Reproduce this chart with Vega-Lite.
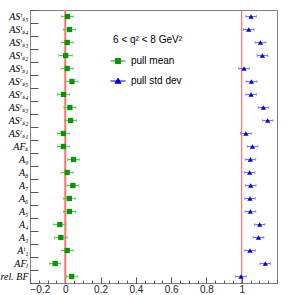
{
  "$schema": "https://vega.github.io/schema/vega-lite/v6.json",
  "width": 247,
  "height": 273,
  "autosize": "none",
  "padding": {"left": 30, "top": 10, "right": 10, "bottom": 12},
  "background": "white",
  "config": {
    "view": {"stroke": "#808080", "strokeWidth": 1},
    "axis": {"grid": false, "domain": false, "tickColor": "#555555", "labelColor": "#222222"}
  },
  "datasets": {
    "pulls": [
      {"param": "ASᵗₛ₅", "series": "pull mean", "value": 0.013, "err": 0.034},
      {"param": "ASᵗₛ₄", "series": "pull mean", "value": 0.024, "err": 0.034},
      {"param": "ASᵗₛ₃", "series": "pull mean", "value": 0.011, "err": 0.034},
      {"param": "ASᵗₛ₂", "series": "pull mean", "value": 0.002, "err": 0.038},
      {"param": "ASᵗₛ₁", "series": "pull mean", "value": 0.011, "err": 0.034},
      {"param": "ASʳₛ₅", "series": "pull mean", "value": 0.038, "err": 0.034},
      {"param": "ASʳₛ₄", "series": "pull mean", "value": -0.010, "err": 0.034},
      {"param": "ASʳₛ₃", "series": "pull mean", "value": 0.026, "err": 0.034},
      {"param": "ASʳₛ₂", "series": "pull mean", "value": 0.030, "err": 0.034},
      {"param": "ASʳₛ₁", "series": "pull mean", "value": -0.011, "err": 0.034},
      {"param": "AFₛ", "series": "pull mean", "value": -0.011, "err": 0.034},
      {"param": "A₉", "series": "pull mean", "value": 0.047, "err": 0.034},
      {"param": "A₈", "series": "pull mean", "value": 0.011, "err": 0.034},
      {"param": "A₇", "series": "pull mean", "value": 0.043, "err": 0.034},
      {"param": "A₆", "series": "pull mean", "value": 0.023, "err": 0.034},
      {"param": "A₅", "series": "pull mean", "value": 0.024, "err": 0.034},
      {"param": "A₄", "series": "pull mean", "value": -0.031, "err": 0.036},
      {"param": "A₃", "series": "pull mean", "value": -0.025, "err": 0.036},
      {"param": "Aᵗ₁", "series": "pull mean", "value": 0.011, "err": 0.034},
      {"param": "AFₗ", "series": "pull mean", "value": -0.057, "err": 0.032},
      {"param": "rel. BF", "series": "pull mean", "value": 0.036, "err": 0.032},
      {"param": "ASᵗₛ₅", "series": "pull std dev", "value": 1.053, "err": 0.03},
      {"param": "ASᵗₛ₄", "series": "pull std dev", "value": 1.040, "err": 0.03},
      {"param": "ASᵗₛ₃", "series": "pull std dev", "value": 1.106, "err": 0.03},
      {"param": "ASᵗₛ₂", "series": "pull std dev", "value": 1.117, "err": 0.03},
      {"param": "ASᵗₛ₁", "series": "pull std dev", "value": 1.013, "err": 0.03},
      {"param": "ASʳₛ₅", "series": "pull std dev", "value": 1.055, "err": 0.03},
      {"param": "ASʳₛ₄", "series": "pull std dev", "value": 1.053, "err": 0.03},
      {"param": "ASʳₛ₃", "series": "pull std dev", "value": 1.123, "err": 0.03},
      {"param": "ASʳₛ₂", "series": "pull std dev", "value": 1.147, "err": 0.03},
      {"param": "ASʳₛ₁", "series": "pull std dev", "value": 1.024, "err": 0.03},
      {"param": "AFₛ", "series": "pull std dev", "value": 1.061, "err": 0.03},
      {"param": "A₉", "series": "pull std dev", "value": 1.049, "err": 0.03},
      {"param": "A₈", "series": "pull std dev", "value": 1.045, "err": 0.03},
      {"param": "A₇", "series": "pull std dev", "value": 1.051, "err": 0.03},
      {"param": "A₆", "series": "pull std dev", "value": 1.047, "err": 0.03},
      {"param": "A₅", "series": "pull std dev", "value": 1.049, "err": 0.03},
      {"param": "A₄", "series": "pull std dev", "value": 1.102, "err": 0.03},
      {"param": "A₃", "series": "pull std dev", "value": 1.095, "err": 0.03},
      {"param": "Aᵗ₁", "series": "pull std dev", "value": 1.047, "err": 0.03},
      {"param": "AFₗ", "series": "pull std dev", "value": 1.134, "err": 0.03},
      {"param": "rel. BF", "series": "pull std dev", "value": 0.996, "err": 0.03}
    ]
  },
  "resolve": {"axis": {"x": "independent"}, "scale": {"color": "independent"}, "legend": {"color": "independent"}},
  "layer": [
    {
      "data": {"values": [{}]},
      "mark": {"type": "rule", "color": "#ff7070", "strokeWidth": 2},
      "encoding": {
        "x": {
          "datum": 0, "type": "quantitative",
          "scale": {"domain": [-0.2, 1.2], "nice": false, "zero": false},
          "axis": {
            "orient": "bottom",
            "values": [-0.2,-0.15,-0.1,-0.05,0,0.05,0.1,0.15,0.2,0.25,0.3,0.35,0.4,0.45,0.5,0.55,0.6,0.65,0.7,0.75,0.8,0.85,0.9,0.95,1,1.05,1.1,1.15,1.2],
            "labels": false, "tickSize": -3, "title": null
          }
        }
      }
    },
    {
      "data": {"values": [{}]},
      "mark": {"type": "rule", "color": "#ff5555", "strokeWidth": 1},
      "encoding": {"x": {"datum": 1, "type": "quantitative", "axis": null}}
    },
    {
      "data": {"name": "pulls"},
      "mark": {"type": "errorbar", "ticks": {"size": 3}},
      "encoding": {
        "y": {"field": "param", "type": "nominal"},
        "x": {"field": "value", "type": "quantitative", "axis": null},
        "xError": {"field": "err"},
        "color": {"field": "series", "type": "nominal", "legend": null,
          "scale": {"domain": ["pull mean", "pull std dev"], "range": ["#66c266", "#7777ff"]}}
      }
    },
    {
      "data": {"name": "pulls"},
      "mark": {"type": "point", "filled": true, "opacity": 1, "size": 28},
      "encoding": {
        "y": {
          "field": "param", "type": "nominal", "title": null,
          "scale": {"domain": ["ASᵗₛ₅","ASᵗₛ₄","ASᵗₛ₃","ASᵗₛ₂","ASᵗₛ₁","ASʳₛ₅","ASʳₛ₄","ASʳₛ₃","ASʳₛ₂","ASʳₛ₁","AFₛ","A₉","A₈","A₇","A₆","A₅","A₄","A₃","Aᵗ₁","AFₗ","rel. BF"], "type": "band", "paddingInner": 0, "paddingOuter": 0},
          "axis": {"tickBand": "extent", "tickSize": -8, "labelFont": "Liberation Serif", "labelFontStyle": "italic", "labelFontSize": 10, "labelColor": "#000000", "labelPadding": 10}
        },
        "x": {
          "field": "value", "type": "quantitative",
          "axis": {"orient": "bottom", "values": [-0.2, 0, 0.2, 0.4, 0.6, 0.8, 1.0], "format": ".2~f", "tickSize": -6, "labelFont": "Liberation Sans", "labelFontSize": 10, "labelPadding": 7, "title": null}
        },
        "color": {
          "field": "series", "type": "nominal",
          "scale": {"domain": ["pull mean", "pull std dev"], "range": ["#009900", "#0000ee"]},
          "legend": {
            "title": "6 < q² < 8 GeV²", "orient": "none", "legendX": 80, "legendY": 25,
            "titleFont": "Liberation Sans", "titleFontSize": 10, "titleFontWeight": "normal", "titleColor": "#000000",
            "titleAnchor": "end", "titlePadding": 8,
            "labelFont": "Liberation Sans", "labelFontSize": 10, "labelColor": "#000000", "labelOffset": 5,
            "symbolSize": 225, "rowPadding": 7, "symbolStrokeWidth": 1, "symbolOpacity": 1,
            "encode": {"symbols": {"update": {
              "shape": {"signal": "datum.value === 'pull mean' ? 'M-1,0H1M-0.33,-0.33H0.33V0.33H-0.33Z' : 'M-1,0H1M0,-0.38L0.4,0.3H-0.4Z'"},
              "stroke": {"signal": "datum.value === 'pull mean' ? '#009900' : '#0000ee'"},
              "fill": {"signal": "datum.value === 'pull mean' ? '#009900' : '#0000ee'"}
            }}}
          }
        },
        "shape": {
          "field": "series", "type": "nominal",
          "scale": {"domain": ["pull mean", "pull std dev"], "range": ["square", "triangle-up"]},
          "legend": null
        }
      }
    }
  ]
}
